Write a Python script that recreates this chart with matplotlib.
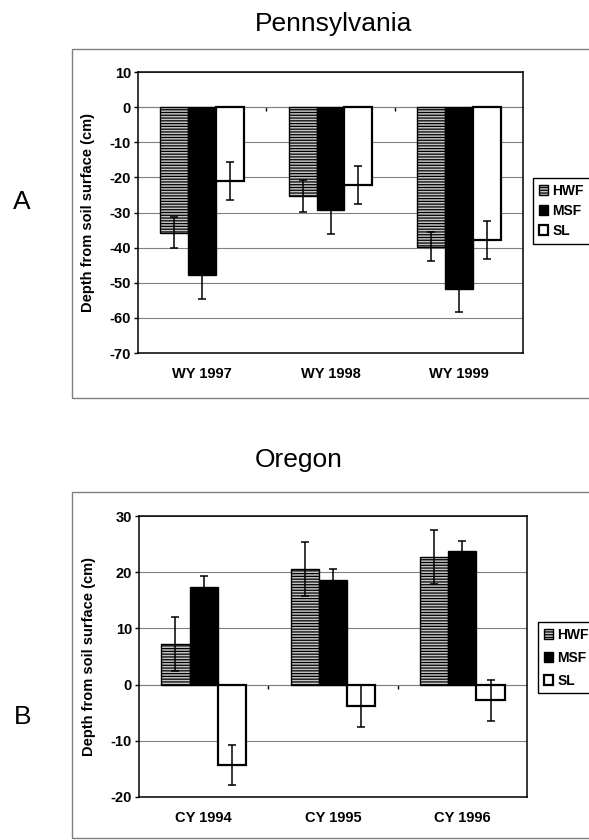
import numpy as np
import matplotlib
matplotlib.use("Agg")
import matplotlib.pyplot as plt
from matplotlib.patches import Rectangle

plt.rcParams['font.family'] = ['Liberation Sans', 'DejaVu Sans']
plt.rcParams['hatch.linewidth'] = 0.9
plt.rcParams['axes.unicode_minus'] = False

# Pennsylvania (water years)
penn_years = ['WY 1997', 'WY 1998', 'WY 1999']
penn_hwf = [-35.7, -25.3, -39.7]
penn_hwf_err = [4.3, 4.5, 4.1]
penn_msf = [-47.7, -29.2, -51.8]
penn_msf_err = [6.9, 6.8, 6.5]
penn_sl = [-21.0, -22.2, -37.8]
penn_sl_err = [5.4, 5.5, 5.3]
penn_yticks = [10, 0, -10, -20, -30, -40, -50, -60, -70]

# Oregon (calendar years)
ore_years = ['CY 1994', 'CY 1995', 'CY 1996']
ore_hwf = [7.3, 20.5, 22.7]
ore_hwf_err = [4.8, 4.8, 4.8]
ore_msf = [17.4, 18.7, 23.8]
ore_msf_err = [1.9, 1.9, 1.8]
ore_sl = [-14.3, -3.8, -2.8]
ore_sl_err = [3.6, 3.7, 3.6]
ore_yticks = [30, 20, 10, 0, -10, -20]

W, H = 589, 840
fig = plt.figure(figsize=(W / 100, H / 100), dpi=100)


def px(x0, y0, x1, y1):
    # pixel box -> figure fraction [left, bottom, width, height]
    return [x0 / W, 1 - y1 / H, (x1 - x0) / W, (y1 - y0) / H]


def panel(rect, cats, hwf, hwf_e, msf, msf_e, sl, sl_e, yticks, leg_xy, leg_space):
    ax = fig.add_axes(rect)
    x = np.arange(len(cats))
    w = 0.218
    ax.bar(x - w, hwf, w, facecolor='#c4c4c4', edgecolor='black', hatch='------',
           linewidth=1.0, label='HWF', zorder=2)
    ax.bar(x, msf, w, facecolor='black', edgecolor='black', linewidth=1.0,
           label='MSF', zorder=2)
    ax.bar(x + w, sl, w, facecolor='white', edgecolor='black', linewidth=1.6,
           label='SL', zorder=2)
    for off, vals, errs in [(-w, hwf, hwf_e), (0, msf, msf_e), (w, sl, sl_e)]:
        ax.errorbar(x + off, vals, yerr=errs, fmt='none', ecolor='black',
                    elinewidth=1.1, capsize=3, capthick=1.1, zorder=3)

    ax.set_xlim(-0.5, len(cats) - 0.5)
    ax.set_ylim(min(yticks), max(yticks))
    ax.set_yticks(yticks)
    ax.set_xticks(x)
    ax.set_xticklabels(cats)
    ax.yaxis.grid(True, color='#808080', linewidth=0.8)
    ax.set_axisbelow(True)
    for s in ax.spines.values():
        s.set_linewidth(1.1)
    ax.tick_params(axis='y', direction='out', length=3, width=1, pad=2, labelsize=10.5)
    ax.tick_params(axis='x', length=0, pad=10, labelsize=10.5)
    for lab in ax.get_xticklabels() + ax.get_yticklabels():
        lab.set_fontweight('bold')
    ax.set_ylabel('Depth from soil surface (cm)', fontsize=10.5, fontweight='bold')
    ax.yaxis.set_label_coords(-0.112, 0.5)

    # category axis crosses at zero: small boundary tick marks there
    sec = ax.secondary_xaxis(0, transform=ax.transData)
    sec.set_xticks(x[:-1] + 0.5)
    sec.tick_params(direction='out', length=3, width=1, labelbottom=False)
    sec.spines['bottom'].set_color('#808080')
    sec.spines['bottom'].set_linewidth(0.8)

    ax.legend(loc='upper left', bbox_to_anchor=leg_xy, bbox_transform=fig.transFigure,
              borderaxespad=0, fancybox=False, edgecolor='black', framealpha=1,
              prop={'size': 10, 'weight': 'bold'}, handlelength=0.7, handleheight=0.7,
              handletextpad=0.3, labelspacing=leg_space, borderpad=0.4)
    ax.get_legend().get_frame().set_linewidth(1.0)
    return ax


# outer chart frames
for y0, y1 in [(49, 398), (492, 838)]:
    fig.add_artist(Rectangle((72 / W, 1 - y1 / H), 1.0, (y1 - y0) / H,
                             transform=fig.transFigure, fill=False,
                             edgecolor='#808080', linewidth=1.0))

panel(px(138, 72, 523, 353), penn_years, penn_hwf, penn_hwf_err, penn_msf,
      penn_msf_err, penn_sl, penn_sl_err, penn_yticks, (533 / W, 1 - 178 / H), 0.45)
panel(px(139, 516, 527, 797), ore_years, ore_hwf, ore_hwf_err, ore_msf,
      ore_msf_err, ore_sl, ore_sl_err, ore_yticks, (538 / W, 1 - 622 / H), 0.65)

fig.text(255 / W, 1 - 24 / H, 'Pennsylvania', fontsize=19, ha='left', va='center')
fig.text(255 / W, 1 - 460 / H, 'Oregon', fontsize=19, ha='left', va='center')
fig.text(22 / W, 1 - 202 / H, 'A', fontsize=19, ha='center', va='center')
fig.text(23 / W, 1 - 717 / H, 'B', fontsize=19, ha='center', va='center')

fig.savefig('out.png', dpi=100)
